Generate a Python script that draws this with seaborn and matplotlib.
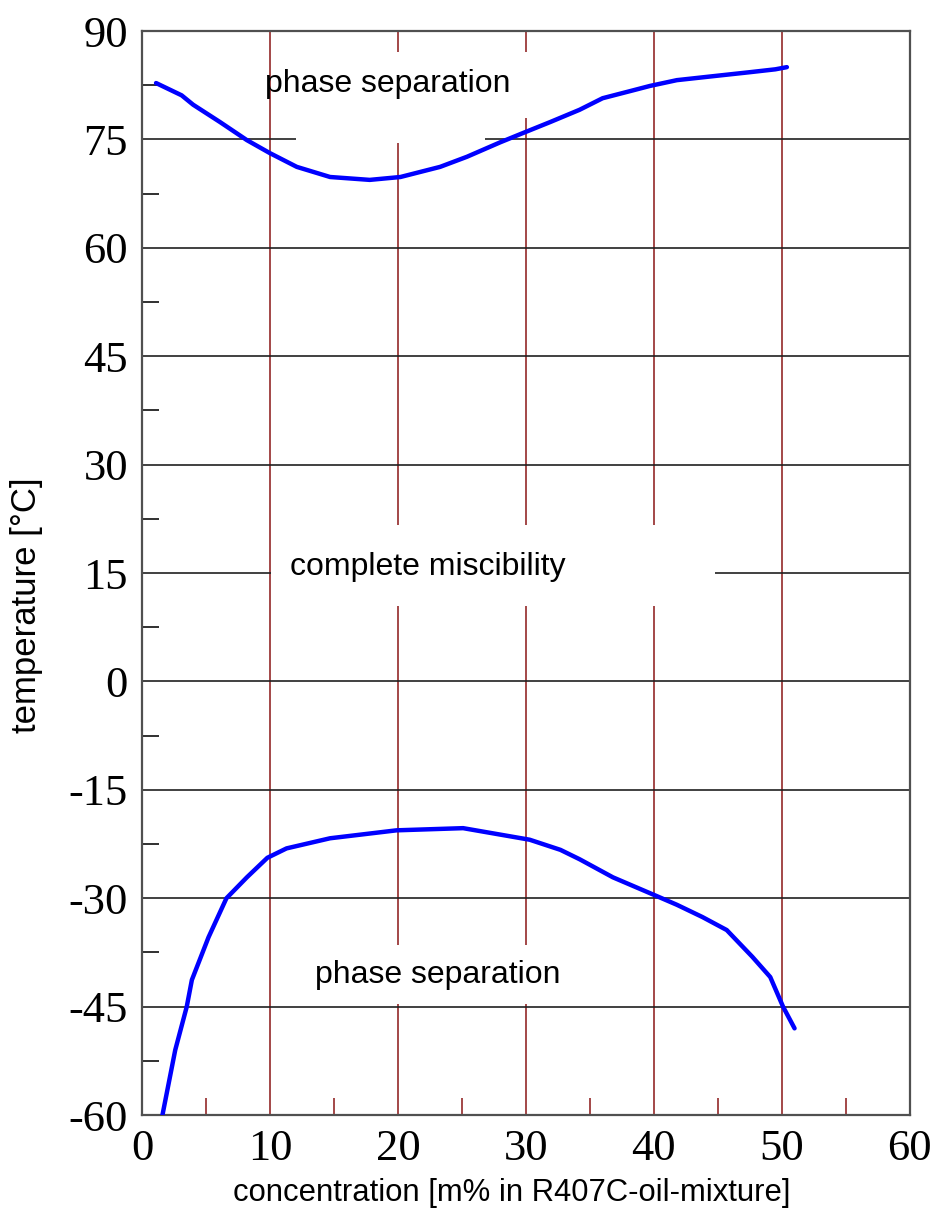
import numpy as np
import pandas as pd
import matplotlib
matplotlib.use("Agg")
import matplotlib.pyplot as plt
from matplotlib.patches import Rectangle
from matplotlib.ticker import MultipleLocator
import seaborn as sns

# upper miscibility limit
upper_conc = [1.1, 3.1, 4.0, 6.1, 8.2, 10.0, 12.1, 14.7, 17.8, 20.2, 23.3, 25.4,
              28.0, 29.8, 31.9, 34.2, 36.0, 38.4, 39.7, 41.8, 44.9, 47.5, 49.5, 50.4]
upper_temp = [82.8, 81.1, 79.8, 77.4, 74.9, 73.1, 71.2, 69.8, 69.4, 69.8, 71.2, 72.6,
              74.6, 75.9, 77.4, 79.1, 80.7, 81.8, 82.4, 83.2, 83.8, 84.3, 84.7, 85.0]

# lower miscibility limit
lower_conc = [1.6, 2.6, 3.5, 3.9, 5.2, 6.6, 8.2, 9.8, 11.3, 14.7, 19.9, 25.1,
              30.3, 32.7, 34.2, 36.8, 40.1, 41.8, 43.8, 45.7, 47.7, 49.1, 50.1, 51.0]
lower_temp = [-60.0, -51.0, -45.0, -41.3, -35.4, -30.0, -27.1, -24.4, -23.1, -21.7, -20.6, -20.3,
              -21.9, -23.3, -24.6, -27.1, -29.6, -30.9, -32.6, -34.4, -38.1, -40.9, -45.0, -48.0]

x_ticks = [0, 10, 20, 30, 40, 50, 60]
y_ticks = [-60, -45, -30, -15, 0, 15, 30, 45, 60, 75, 90]

df_up = pd.DataFrame({"conc": upper_conc, "temp": upper_temp})
df_lo = pd.DataFrame({"conc": lower_conc, "temp": lower_temp})

sns.set_style("white")
plt.rcParams['font.family'] = ['Liberation Sans', 'DejaVu Sans']
plt.rcParams['axes.unicode_minus'] = False
plt.rcParams['text.color'] = 'black'

fig = plt.figure(figsize=(9.34, 12.16), dpi=100)
ax = fig.add_axes([0.152, 0.083, 0.822, 0.8915])

red = "#a34848"
# grid lines
for xv in x_ticks[1:-1]:
    ax.axvline(xv, color=red, lw=1.4, zorder=1)
for yv in y_ticks[1:-1]:
    ax.axhline(yv, color="#202020", lw=1.2, zorder=1)

# white areas behind the region labels
for (x0, y0, w, h) in [(10.05, 78.0, 24.0, 9.1), (12.0, 74.5, 14.8, 3.5),
                       (10.05, 10.4, 34.75, 11.2), (15.5, -44.6, 19.0, 8.1)]:
    ax.add_patch(Rectangle((x0, y0), w, h, facecolor="white", edgecolor="none", zorder=2))

sns.lineplot(data=df_up, x="conc", y="temp", sort=False, color="#0000ff", lw=3.2, ax=ax, zorder=4)
sns.lineplot(data=df_lo, x="conc", y="temp", sort=False, color="#0000ff", lw=3.2, ax=ax, zorder=4)

ax.text(19.2, 82.6, "phase separation", fontsize=23, ha="center", va="center", zorder=5)
ax.text(22.3, 15.8, "complete miscibility", fontsize=23, ha="center", va="center", zorder=5)
ax.text(23.1, -40.6, "phase separation", fontsize=23, ha="center", va="center", zorder=5)

ax.set_xlim(0, 60)
ax.set_ylim(-60, 90)
ax.set_xticks(x_ticks)
ax.set_yticks(y_ticks)
ax.xaxis.set_minor_locator(MultipleLocator(5))
ax.yaxis.set_minor_locator(MultipleLocator(7.5))
ax.tick_params(which="both", bottom=True, left=True, top=False, right=False)
ax.tick_params(which="major", length=0, pad=10, labelcolor="black")
ax.tick_params(which="minor", direction="in", length=12, width=1.4)
ax.tick_params(axis="x", which="minor", color=red)
ax.tick_params(axis="y", which="minor", color="#303030")
for lab in ax.get_xticklabels() + ax.get_yticklabels():
    lab.set_family("Liberation Serif")
    lab.set_fontsize(32)

for sp in ax.spines.values():
    sp.set_color("#505050")
    sp.set_linewidth(1.6)

ax.set_xlabel("concentration [m% in R407C-oil-mixture]", fontsize=22.3, color="black")
ax.set_ylabel("temperature [°C]", fontsize=25, color="black")
ax.xaxis.set_label_coords(0.482, -0.058)
ax.yaxis.set_label_coords(-0.129, 0.47)

fig.savefig("out.png", dpi=100)
